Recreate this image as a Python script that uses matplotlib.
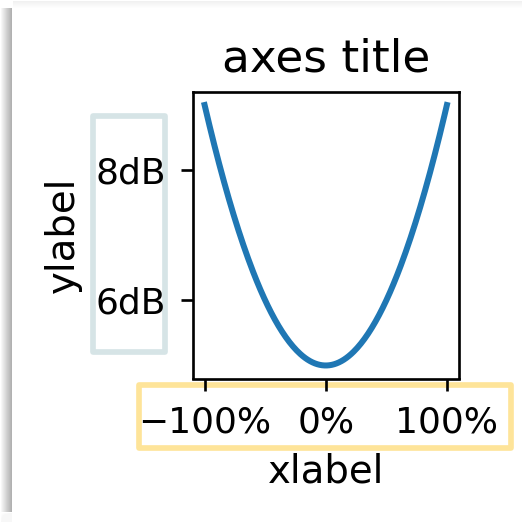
import numpy as np
import matplotlib
matplotlib.use("Agg")
import matplotlib.pyplot as plt
from matplotlib.patches import Rectangle
from matplotlib.ticker import FuncFormatter

# curve samples: a parabola between -100% and 100%
x_vals = np.linspace(-1.0, 1.0, 201)
y_vals = 4.0 * x_vals ** 2 + 5.0

x_ticks = [-1.0, 0.0, 1.0]
y_ticks = [6, 8]

W = H = 522
DPI = 240
fig = plt.figure(figsize=(W / DPI, H / DPI), dpi=DPI)
fig.patch.set_facecolor("white")

# soft drop shadow along the left and top edges
left = np.ones((H, 13, 3))
ramp = np.linspace(1.0, 0.80, 13) ** 1.8
ramp[-1] = 1.0
for i in range(13):
    left[:, i, :] = ramp[i]
fade = np.linspace(1.0, 0.0, 10)[:, None]
left[H - 10:, :, :] = 1 - (1 - left[H - 10:, :, :]) * (1 - fade[:, :, None])
left[H - 8:, :, :] = np.maximum(left[H - 8:, :, :], 0.97)
fig.figimage(left, xo=0, yo=0, zorder=0)
top = np.ones((8, W, 3))
for j, v in enumerate(np.linspace(0.995, 0.94, 8)):
    top[7 - j, :, :] = v
top[0, :, :] = 1.0
top[:, :13, :] = 1.0
fig.figimage(top, xo=0, yo=H - 8, zorder=0)


def px(x0, y0, x1, y1):
    """Pixel box (top-left origin) -> figure fraction rect."""
    return [x0 / W, 1 - y1 / H, (x1 - x0) / W, (y1 - y0) / H]


ax = fig.add_axes(px(192.5, 92, 459, 378.5))
ax.plot(x_vals, y_vals, color="#1f77b4", lw=1.8)
ax.set_xticks(x_ticks)
ax.set_yticks(y_ticks)
ax.tick_params(labelsize=10.8, pad=4.6)
ax.xaxis.set_major_formatter(FuncFormatter(lambda v, p: f"{v * 100:.0f}%".replace("-", "\u2212")))
ax.yaxis.set_major_formatter(FuncFormatter(lambda v, p: f"{v:.0f}dB"))
ax.set_title("axes title", fontsize=13.6)
ax.set_xlabel("xlabel", fontsize=11.6)
ax.set_ylabel("ylabel", fontsize=11.6)

# highlight frames around the tick-label regions
for (x0, y0, x1, y1), col in [((93, 116, 165, 352), "#d6e4e6"),
                              ((139, 385, 511, 448), "#fee499")]:
    r = Rectangle((x0 / W, 1 - y1 / H), (x1 - x0) / W, (y1 - y0) / H,
                  transform=fig.transFigure, fill=False, edgecolor=col,
                  lw=1.7, joinstyle="round", zorder=-1)
    fig.add_artist(r)

fig.savefig("out.png", dpi=DPI)
